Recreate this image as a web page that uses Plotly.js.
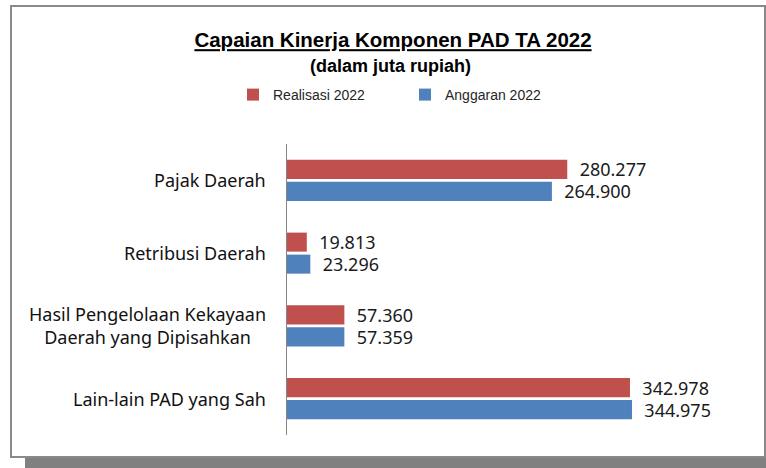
<!DOCTYPE html>
<html>
<head>
<meta charset="utf-8">
<script src="https://cdn.plot.ly/plotly-3.0.1.min.js"></script>
<style>html,body{margin:0;padding:0;background:#fff;}#chart{width:766px;height:468px;}</style>
</head>
<body>
<div id="chart"></div>
<script>
const categories = ["Pajak Daerah", "Retribusi Daerah", "Hasil Pengelolaan Kekayaan<br>Daerah yang Dipisahkan", "Lain-lain PAD yang Sah"];
const realisasi2022 = [280277, 19813, 57360, 342978];
const anggaran2022 = [264900, 23296, 57359, 344975];
const seriesNames = ["Realisasi 2022", "Anggaran 2022"];
const titleText = "Capaian Kinerja Komponen PAD TA 2022";
const subtitleText = "(dalam juta rupiah)";

const W = 766, H = 468;
const M = {l: 287, r: 19, t: 144, b: 33};
const PW = W - M.l - M.r, PH = H - M.t - M.b;
const px = x => (x - M.l) / PW;
const py = y => (H - M.b - y) / PH;

const valFont = {family: "Noto Sans", size: 18, color: "#1a1a1a"};
const tt = "\u00a0\u00a0%{x:,.0f}";

const traces = [
  {type: "bar", orientation: "h", name: seriesNames[0], y: categories, x: realisasi2022,
   marker: {color: "#C0504D"}, texttemplate: tt, textposition: "outside",
   outsidetextfont: valFont, constraintext: "none", cliponaxis: false, hoverinfo: "none"},
  {type: "bar", orientation: "h", name: seriesNames[1], y: categories, x: anggaran2022,
   marker: {color: "#4F81BD"}, texttemplate: tt, textposition: "outside",
   outsidetextfont: valFont, constraintext: "none", cliponaxis: false, hoverinfo: "none"}
];

const annotations = categories.map(c => ({
  xref: "paper", yref: "y", x: 0, y: c, xanchor: "right", yanchor: "middle",
  xshift: -19, align: "center", showarrow: false, text: c,
  font: {family: "Noto Sans", size: 18, color: "#111"}
}));
annotations.push({
  xref: "paper", yref: "paper", x: px(390), y: py(66), xanchor: "center", yanchor: "middle",
  showarrow: false, text: subtitleText,
  font: {family: "Liberation Sans", size: 18, color: "#000", weight: "bold"}
});

const layout = {
  width: W, height: H,
  margin: M,
  paper_bgcolor: "#ffffff", plot_bgcolor: "rgba(0,0,0,0)",
  separators: ",.",
  title: {text: "<u>" + titleText + "</u>", xref: "container", yref: "container",
          x: 393 / W, y: 1 - 40 / H, xanchor: "center", yanchor: "middle",
          font: {family: "Liberation Sans", size: 20.5, color: "#000", weight: "bold"}},
  barmode: "group", bargap: 0.395, bargroupgap: 0.136,
  showlegend: true,
  legend: {orientation: "h", xref: "container", yref: "container",
           x: 233 / W, y: 1 - 95 / H, xanchor: "left", yanchor: "middle",
           font: {family: "Liberation Sans", size: 14, color: "#262626"},
           entrywidth: 127, bgcolor: "rgba(0,0,0,0)", borderwidth: 0},
  xaxis: {range: [0, 460000], visible: false, fixedrange: true},
  yaxis: {type: "category", autorange: "reversed", showline: true, linecolor: "#868686",
          linewidth: 1, showticklabels: false, ticks: "", showgrid: false, zeroline: false,
          fixedrange: true},
  shapes: [
    {type: "rect", layer: "below", xref: "paper", yref: "paper",
     x0: px(25), x1: px(800), y0: py(457), y1: py(490),
     fillcolor: "#808080", line: {width: 0}},
    {type: "rect", layer: "below", xref: "paper", yref: "paper",
     x0: px(11), x1: px(765), y0: py(457), y1: py(6),
     fillcolor: "#ffffff", line: {color: "#8a8a8a", width: 2}}
  ],
  annotations: annotations
};

Plotly.newPlot("chart", traces, layout, {staticPlot: true, displayModeBar: false});
</script>
</body>
</html>
